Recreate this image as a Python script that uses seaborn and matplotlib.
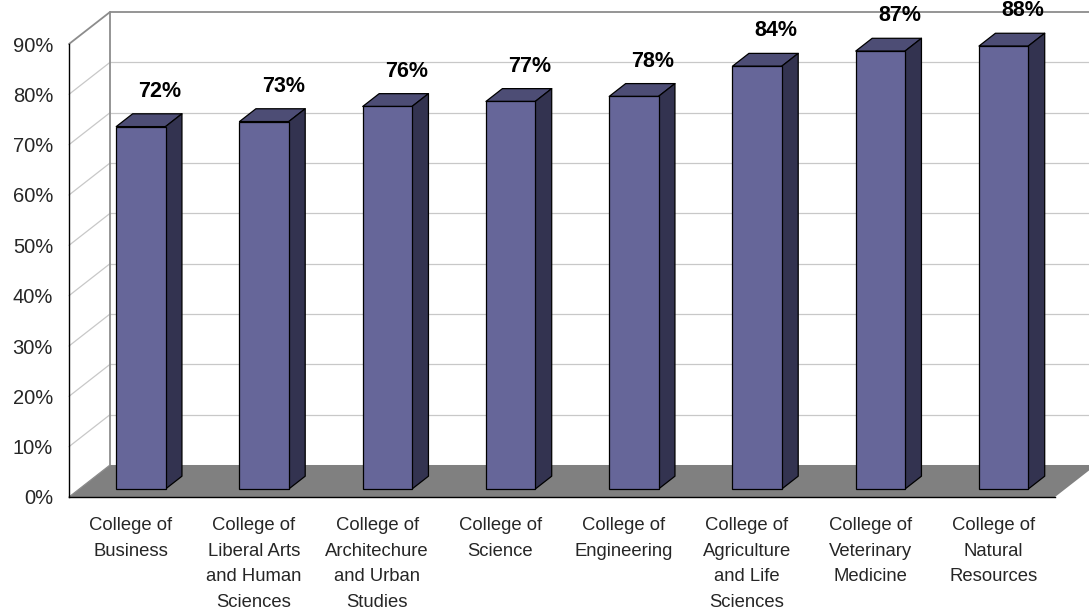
import matplotlib
matplotlib.use("Agg")
import matplotlib.pyplot as plt
from matplotlib.patches import Polygon
import seaborn as sns
import pandas as pd
import numpy as np

categories = [
    "College of\nBusiness",
    "College of\nLiberal Arts\nand Human\nSciences",
    "College of\nArchitechure\nand Urban\nStudies",
    "College of\nScience",
    "College of\nEngineering",
    "College of\nAgriculture\nand Life\nSciences",
    "College of\nVeterinary\nMedicine",
    "College of\nNatural\nResources",
]
values = [72, 73, 76, 77, 78, 84, 87, 88]
yticks = [0, 10, 20, 30, 40, 50, 60, 70, 80, 90]
ytick_labels = [f"{v}%" for v in yticks]

FRONT = "#666699"
SIDE = "#333350"
TOP = "#4d4d75"
FLOOR = "#808080"
GRID = "#c8c8c8"
WALL_EDGE = "#8c8c8c"

sns.set_style("white")
plt.rcParams["font.family"] = ["Liberation Sans", "DejaVu Sans"]

fig = plt.figure(figsize=(10.89, 6.12), dpi=100)
ax = fig.add_axes([69 / 1089, 115 / 612, 986 / 1089, 453 / 612])

df = pd.DataFrame({"college": categories, "rate": values})
sns.barplot(data=df, x="college", y="rate", color=FRONT, saturation=1,
            width=0.4, edgecolor="black", linewidth=0.9, ax=ax, zorder=5)

ax.set_xlim(-0.5, len(categories) - 0.5)
ax.set_ylim(0, 90)

# depth of the 3-D box (data units)
DX = 0.333
DY = 6.36
n = len(categories)

# floor
floor = Polygon([(-0.5, 0), (n - 0.5, 0), (n - 0.5 + DX, DY), (-0.5 + DX, DY)],
                closed=True, facecolor=FLOOR, edgecolor="none", zorder=1, clip_on=False)
ax.add_patch(floor)

# back wall gridlines + side wall diagonals
for v in yticks[1:]:
    col = WALL_EDGE if v == 90 else GRID
    lw = 1.3 if v == 90 else 0.9
    ax.plot([-0.5 + DX, n - 0.5 + DX], [v + DY, v + DY], color=col, lw=lw,
            zorder=0.5, clip_on=False, solid_capstyle="butt")
    ax.plot([-0.5, -0.5 + DX], [v, v + DY], color=col, lw=lw, zorder=0.5, clip_on=False)
ax.plot([-0.5 + DX, -0.5 + DX], [DY, 90 + DY], color=WALL_EDGE, lw=1.3, zorder=0.6, clip_on=False)
ax.plot([-0.5, -0.5 + DX], [0, DY], color=WALL_EDGE, lw=0.9, zorder=1.1, clip_on=False)

# 3-D bars: shift front faces into the floor, add top and side faces
bd = 0.4  # bar depth fraction
f0 = 0.25  # front face depth position
for p, v in zip(ax.patches[:n], values):
    x0 = p.get_x() + f0 * DX
    w = p.get_width()
    y0 = f0 * DY
    p.set_x(x0)
    p.set_y(y0)
    x1 = x0 + w
    top = y0 + v
    ddx, ddy = bd * DX, bd * DY
    ax.add_patch(Polygon([(x0, top), (x1, top), (x1 + ddx, top + ddy), (x0 + ddx, top + ddy)],
                         closed=True, facecolor=TOP, edgecolor="black", lw=0.9,
                         zorder=4, clip_on=False, joinstyle="round"))
    ax.add_patch(Polygon([(x1, y0), (x1, top), (x1 + ddx, top + ddy), (x1 + ddx, y0 + ddy)],
                         closed=True, facecolor=SIDE, edgecolor="black", lw=0.9,
                         zorder=4, clip_on=False, joinstyle="round"))
    ax.annotate(f"{v}%", xy=(x0 + w / 2, top + ddy), xytext=(19, 12),
                textcoords="offset pixels", ha="center", va="bottom",
                fontsize=15.5, fontweight="bold", color="black", zorder=6,
                annotation_clip=False)

# axes styling
for s in ["top", "right"]:
    ax.spines[s].set_visible(False)
for s in ["left", "bottom"]:
    ax.spines[s].set_color("black")
    ax.spines[s].set_linewidth(1.0)
    ax.spines[s].set_zorder(3)

ax.set_yticks(yticks)
ax.set_yticklabels(ytick_labels, fontsize=14.5)
ax.tick_params(axis="y", direction="out", length=6.5, width=1, color="black", pad=5)

ax.set_xticks(range(n))
ax.set_xticklabels(categories, fontsize=13.3, linespacing=1.66)
ax.set_xticks(np.arange(-0.5, n, 1.0), minor=True)
ax.tick_params(axis="x", which="major", length=0, pad=14.5)
ax.tick_params(axis="x", which="minor", direction="out", length=6.5, width=1, color="black")
ax.set_xlabel("")
ax.set_ylabel("")
ax.grid(False)

fig.savefig("out.png", dpi=100, facecolor="white")
